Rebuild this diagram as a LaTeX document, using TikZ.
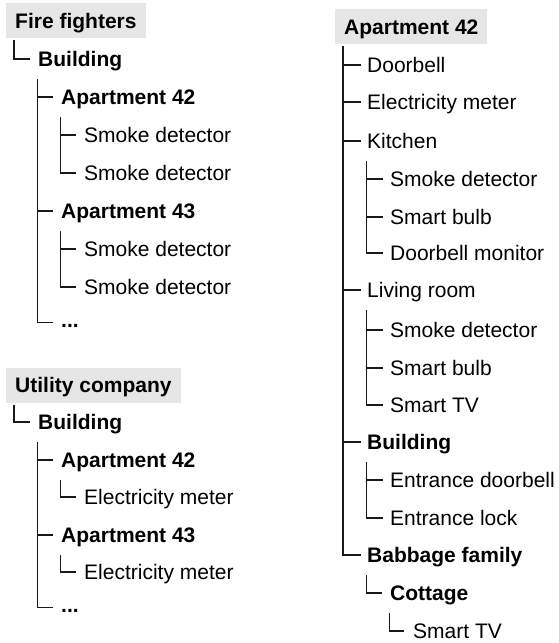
\documentclass[tikz,border=0pt]{standalone}
\usepackage{fontspec}
\setmainfont{Liberation Sans}
\definecolor{hdrgray}{HTML}{E6E6E6}
\tikzset{
  lbl/.style={anchor=west, inner sep=0pt, text height=17pt, text depth=2pt, font=\fontsize{21}{25}\selectfont},
  blbl/.style={lbl, font=\fontsize{21}{25}\selectfont\bfseries},
  hdr/.style={blbl, fill=hdrgray, inner xsep=9pt, inner ysep=8pt},
  tree/.style={draw=black!90, line width=1.1pt},
}
% header parent -> child
\newcommand\hbranch[3]{\draw[tree] ([xshift=8pt,yshift=-2pt]#1.south west) |- ([xshift=#3]#2.west);}
% plain parent -> child
\newcommand\pbranch[3]{\draw[tree] ([xshift=-0.5pt,yshift=-20pt]#1.west) |- ([xshift=#3]#2.west);}
\begin{document}
\begin{tikzpicture}[x=1pt,y=-1pt]
\useasboundingbox (0,0) rectangle (558,643);
% ---------- Fire fighters ----------
\node[hdr] (ff) at (6,20.5) {Fire fighters};
\node[blbl] (ffb) at (38,59) {Building};
\node[blbl] (ffa42) at (61,97) {Apartment 42};
\node[lbl] (ffs1) at (84,135) {Smoke detector};
\node[lbl] (ffs2) at (84,173) {Smoke detector};
\node[blbl] (ffa43) at (61,211) {Apartment 43};
\node[lbl] (ffs3) at (84,249) {Smoke detector};
\node[lbl] (ffs4) at (84,287) {Smoke detector};
\node[blbl] (ffdots) at (61,320) {...};
\hbranch{ff}{ffb}{-8pt}
\pbranch{ffb}{ffa42}{-8pt}
\pbranch{ffb}{ffa43}{-8pt}
\draw[tree] ([xshift=-0.5pt,yshift=-20pt]ffb.west) |- ([xshift=-8pt,yshift=-2.5pt]ffdots.west);
\pbranch{ffa42}{ffs1}{-8pt}
\pbranch{ffa42}{ffs2}{-8pt}
\pbranch{ffa43}{ffs3}{-8pt}
\pbranch{ffa43}{ffs4}{-8pt}
% ---------- Utility company ----------
\node[hdr] (uc) at (6,385) {Utility company};
\node[blbl] (ucb) at (38,422) {Building};
\node[blbl] (uca42) at (61,460) {Apartment 42};
\node[lbl] (uce1) at (84,497) {Electricity meter};
\node[blbl] (uca43) at (61,535) {Apartment 43};
\node[lbl] (uce2) at (84,572) {Electricity meter};
\node[blbl] (ucdots) at (61,605) {...};
\hbranch{uc}{ucb}{-8pt}
\pbranch{ucb}{uca42}{-8pt}
\pbranch{ucb}{uca43}{-8pt}
\draw[tree] ([xshift=-0.5pt,yshift=-20pt]ucb.west) |- ([xshift=-8pt,yshift=-2.5pt]ucdots.west);
\pbranch{uca42}{uce1}{-8pt}
\pbranch{uca43}{uce2}{-8pt}
% ---------- Apartment 42 ----------
\node[hdr] (ap) at (335,26.5) {Apartment 42};
\node[lbl] (door) at (367,65) {Doorbell};
\node[lbl] (elec) at (367,102) {Electricity meter};
\node[lbl] (kit) at (367,141) {Kitchen};
\node[lbl] (ks) at (390,179) {Smoke detector};
\node[lbl] (kb) at (390,217) {Smart bulb};
\node[lbl] (km) at (390,253) {Doorbell monitor};
\node[lbl] (liv) at (367,290) {Living room};
\node[lbl] (ls) at (390,330) {Smoke detector};
\node[lbl] (lb) at (390,368) {Smart bulb};
\node[lbl] (ltv) at (390,405) {Smart TV};
\node[blbl] (bld) at (367,442) {Building};
\node[lbl] (bd) at (390,480) {Entrance doorbell};
\node[lbl] (bl) at (390,518) {Entrance lock};
\node[blbl] (bab) at (367,555) {Babbage family};
\node[blbl] (cot) at (390,593) {Cottage};
\node[lbl] (ctv) at (413,631) {Smart TV};
\hbranch{ap}{door}{-6pt}
\hbranch{ap}{elec}{-6pt}
\hbranch{ap}{kit}{-6pt}
\hbranch{ap}{liv}{-6pt}
\hbranch{ap}{bld}{-6pt}
\hbranch{ap}{bab}{-6pt}
\pbranch{kit}{ks}{-7pt}
\pbranch{kit}{kb}{-7pt}
\pbranch{kit}{km}{-7pt}
\pbranch{liv}{ls}{-7pt}
\pbranch{liv}{lb}{-7pt}
\pbranch{liv}{ltv}{-7pt}
\pbranch{bld}{bd}{-7pt}
\pbranch{bld}{bl}{-7pt}
\pbranch{bab}{cot}{-8pt}
\pbranch{cot}{ctv}{-9pt}
\end{tikzpicture}
\end{document}
